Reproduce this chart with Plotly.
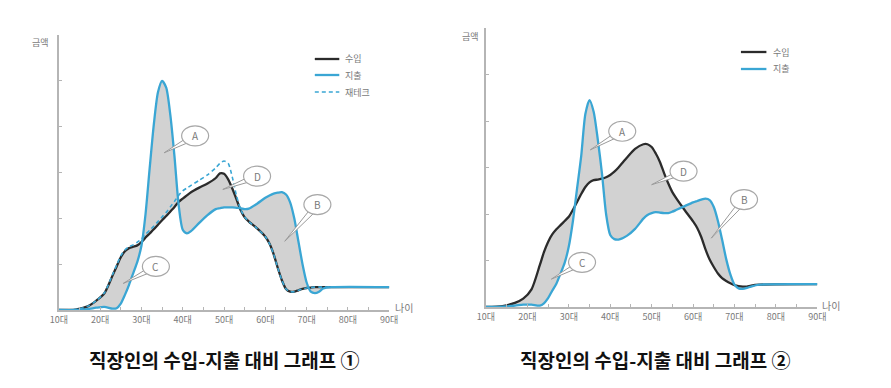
import math
import plotly.graph_objects as go

# ---------------- data ----------------
ages = [10, 14, 17, 19, 21, 23, 24, 25, 26, 27, 28, 29, 30, 31, 32, 33, 34, 35, 36, 37, 38, 39,
        40, 41, 42, 44, 46, 48, 49, 50, 51, 52, 53, 54, 55, 56, 58, 60, 61, 62, 63, 64, 65, 66,
        67, 68, 69, 70, 71, 72, 73, 74, 76, 90]

income_1 = [0, 0.01, 0.08, 0.2, 0.36, 0.75, 0.95, 1.15, 1.28, 1.35, 1.38, 1.41, 1.48, 1.58, 1.67,
            1.76, 1.86, 1.96, 2.05, 2.15, 2.25, 2.36, 2.43, 2.5, 2.57, 2.67, 2.76, 2.88, 2.98, 2.97,
            2.85, 2.65, 2.42, 2.18, 2.02, 1.93, 1.78, 1.6, 1.45, 1.22, 0.92, 0.65, 0.46, 0.4, 0.4,
            0.43, 0.46, 0.48, 0.49, 0.5, 0.5, 0.5, 0.5, 0.5]
spend_1 = [0, 0, 0.02, 0.05, 0.07, 0.03, 0.04, 0.14, 0.33, 0.55, 0.8, 1.05, 1.4, 2.1, 3.1, 4.05,
           4.75, 5.0, 4.85, 4.25, 3.35, 2.3, 1.75, 1.67, 1.72, 1.9, 2.07, 2.2, 2.22, 2.24, 2.24,
           2.24, 2.23, 2.22, 2.2, 2.21, 2.32, 2.45, 2.5, 2.54, 2.56, 2.57, 2.52, 2.35, 2.0, 1.5,
           1.0, 0.6, 0.4, 0.37, 0.4, 0.47, 0.5, 0.5]
invest_1 = [0, 0.01, 0.08, 0.2, 0.37, 0.77, 0.98, 1.18, 1.31, 1.38, 1.42, 1.48, 1.55, 1.65, 1.74,
            1.83, 1.93, 2.03, 2.13, 2.25, 2.37, 2.5, 2.6, 2.66, 2.72, 2.83, 2.95, 3.1, 3.2, 3.25,
            3.2, 2.9, 2.5, 2.2, 2.03, 1.93, 1.78, 1.6, 1.45, 1.22, 0.92, 0.65, 0.46, 0.4, 0.4,
            0.43, 0.46, 0.48, 0.49, 0.5, 0.5, 0.5, 0.5, 0.5]

income_2 = [0, 0.02, 0.09, 0.18, 0.38, 0.9, 1.18, 1.4, 1.56, 1.67, 1.76, 1.85, 1.94, 2.09, 2.26,
            2.43, 2.58, 2.68, 2.73, 2.74, 2.76, 2.79, 2.84, 2.91, 3.0, 3.21, 3.4, 3.5, 3.5, 3.44,
            3.3, 3.12, 2.88, 2.66, 2.47, 2.33, 2.08, 1.84, 1.7, 1.5, 1.24, 1.02, 0.86, 0.72, 0.62,
            0.56, 0.51, 0.47, 0.45, 0.44, 0.44, 0.46, 0.48, 0.49]
spend_2 = [0, 0.01, 0.03, 0.05, 0.05, 0.03, 0.08, 0.19, 0.35, 0.5, 0.72, 0.95, 1.3, 1.85, 2.55,
           3.25, 4.15, 4.45, 4.2, 3.6, 2.88, 2.0, 1.55, 1.46, 1.45, 1.53, 1.68, 1.9, 1.98, 2.02,
           2.04, 2.03, 2.02, 2.02, 2.05, 2.09, 2.17, 2.25, 2.28, 2.31, 2.33, 2.3, 2.15, 1.85, 1.45,
           1.03, 0.7, 0.48, 0.4, 0.39, 0.41, 0.44, 0.48, 0.49]

tick_vals = [10, 20, 30, 40, 50, 60, 70, 80, 90]
tick_text = ["10대", "20대", "30대", "40대", "50대", "60대", "70대", "80대", "90대"]

series_names_1 = ["수입", "지출", "재테크"]
series_names_2 = ["수입", "지출"]

callout_labels = ["A", "D", "B", "C"]
callouts_1 = [(43.0, 3.8, 35.5, 3.43), (58.0, 2.92, 49.7, 2.63), (72.6, 2.3, 64.7, 1.5), (33.5, 0.95, 25.6, 0.58)]
callouts_2 = [(42.9, 3.78, 35.2, 3.38), (57.7, 2.92, 50.0, 2.63), (72.3, 2.31, 64.4, 1.48), (33.2, 0.96, 25.8, 0.6)]

titles = ["직장인의 수입-지출 대비 그래프 ①", "직장인의 수입-지출 대비 그래프 ②"]

# ---------------- style ----------------
FONT = "Noto Sans CJK KR"
BLACK = "#2b2b2b"
BLUE = "#3aa6d4"
FILL = "#d2d2d2"
AXIS = "#b5b5b5"
TXT = "#7a7a7a"
SMOOTH = 0.7
X_RANGE = [10, 90]
Y_RANGE = [0, 6]

# page body has an 8px margin: figure is sized so the page spans 891x388
OFF = 8
W, H = 891 - OFF, 388 - OFF


def px(x):
    return (x - OFF) / W


def py(y):
    return 1 - (y - OFF) / H


# plot-area pixel boxes (left, right, bottom, top) in page pixels
BOX_1 = (50.7, 388, 310, 35)
BOX_2 = (486.7, 825, 307, 28)

fig = go.Figure()


def add_panel(income, spend, invest, xa, ya):
    fig.add_trace(go.Scatter(x=ages, y=spend, mode="lines", line=dict(width=0, shape="spline", smoothing=SMOOTH),
                             showlegend=False, hoverinfo="skip", xaxis=xa, yaxis=ya))
    fig.add_trace(go.Scatter(x=ages, y=income, mode="lines", line=dict(width=0, shape="spline", smoothing=SMOOTH),
                             fill="tonexty", fillcolor=FILL, showlegend=False, hoverinfo="skip",
                             xaxis=xa, yaxis=ya))
    fig.add_trace(go.Scatter(x=ages, y=income, mode="lines", name="수입", showlegend=False,
                             line=dict(color=BLACK, width=2.3, shape="spline", smoothing=SMOOTH),
                             xaxis=xa, yaxis=ya))
    fig.add_trace(go.Scatter(x=ages, y=spend, mode="lines", name="지출", showlegend=False,
                             line=dict(color=BLUE, width=2.3, shape="spline", smoothing=SMOOTH),
                             xaxis=xa, yaxis=ya))
    if invest is not None:
        fig.add_trace(go.Scatter(x=ages, y=invest, mode="lines", name="재테크", showlegend=False,
                                 line=dict(color=BLUE, width=1.6, dash="4px,3px", shape="spline", smoothing=SMOOTH),
                                 xaxis=xa, yaxis=ya))


add_panel(income_1, spend_1, invest_1, "x", "y")
add_panel(income_2, spend_2, None, "x2", "y2")

shapes = []
annotations = []
for callouts, xr, yr, box in ((callouts_1, "x", "y", BOX_1), (callouts_2, "x2", "y2", BOX_2)):
    sx = (box[1] - box[0]) / (X_RANGE[1] - X_RANGE[0])
    sy = (box[2] - box[3]) / (Y_RANGE[1] - Y_RANGE[0])
    for lab, (bx, by, tx, ty) in zip(callout_labels, callouts):
        dx, dy = (bx - tx) * sx, (by - ty) * sy
        L = math.hypot(dx, dy)
        nx, ny = -dy / L * 3.2, dx / L * 3.2
        path = "M 0,0 L {:.1f},{:.1f} L {:.1f},{:.1f} Z".format(dx + nx, dy + ny, dx - nx, dy - ny)
        shapes.append(dict(type="path", xref=xr, yref=yr, xsizemode="pixel", ysizemode="pixel",
                           xanchor=tx, yanchor=ty, path=path, fillcolor="white",
                           line=dict(color="#9a9a9a", width=1), layer="above"))
        shapes.append(dict(type="circle", xref=xr, yref=yr, xsizemode="pixel", ysizemode="pixel",
                           xanchor=bx, yanchor=by, x0=-13.5, x1=13.5, y0=-10, y1=10,
                           fillcolor="white", line=dict(color="#a8a8a8", width=1.2), layer="above"))
        annotations.append(dict(x=bx, y=by, xref=xr, yref=yr, text=lab, showarrow=False,
                                xanchor="center", yanchor="middle",
                                font=dict(family=FONT, size=10, color=TXT)))

# manual legends
legend_styles = [dict(color=BLACK, width=2.3), dict(color=BLUE, width=2.3), dict(color=BLUE, width=1.6, dash="4px,3px")]
for names, lx0, lx1, tx, ys in ((series_names_1, 312, 337, 341, [59, 75, 92]),
                                (series_names_2, 747, 773, 778, [52, 69])):
    for name, st, yy in zip(names, legend_styles, ys):
        shapes.append(dict(type="line", xref="paper", yref="paper", x0=px(lx0), x1=px(lx1),
                           y0=py(yy), y1=py(yy), line=st))
        annotations.append(dict(x=px(tx), y=py(yy), xref="paper", yref="paper", text=name, showarrow=False,
                                xanchor="left", yanchor="middle", font=dict(family=FONT, size=9, color=TXT)))

# axis labels
for (gx, gy, nx_, ny_) in ((31.7, 43, 403, 307), (471, 36, 839, 305)):
    annotations.append(dict(x=px(gx), y=py(gy), xref="paper", yref="paper", text="금액",
                            xanchor="center", yanchor="middle",
                            showarrow=False, font=dict(family=FONT, size=9, color=TXT)))
    annotations.append(dict(x=px(nx_), y=py(ny_), xref="paper", yref="paper", text="나이",
                            xanchor="center", yanchor="middle",
                            showarrow=False, font=dict(family=FONT, size=10, color=TXT)))

for t, cx in zip(titles, (220, 660)):
    annotations.append(dict(x=px(cx), y=py(359), xref="paper", yref="paper", text="<b>" + t + "</b>",
                            xanchor="center", yanchor="middle",
                            showarrow=False, font=dict(family=FONT, size=19, color="#111111")))

xaxis_common = dict(range=X_RANGE, showgrid=False, zeroline=False, showline=True, linecolor=AXIS, linewidth=1.5,
                    tickvals=tick_vals, ticktext=tick_text, ticks="inside", ticklen=3, tickcolor=AXIS,
                    minor=dict(dtick=5, ticks="inside", ticklen=3, tickcolor=AXIS),
                    tickfont=dict(family=FONT, size=9, color=TXT), fixedrange=True)
yaxis_common = dict(range=Y_RANGE, showgrid=False, zeroline=False, showline=True, linecolor=AXIS, linewidth=1.5,
                    tickvals=[1, 2, 3, 4, 5, 6], showticklabels=False, ticks="inside", ticklen=3,
                    tickcolor=AXIS, fixedrange=True)

fig.update_layout(
    width=W, height=H,
    margin=dict(l=0, r=0, t=0, b=0),
    paper_bgcolor="white", plot_bgcolor="white",
    font=dict(family=FONT),
    showlegend=False,
    xaxis=dict(domain=[px(BOX_1[0]), px(BOX_1[1])], anchor="y", **xaxis_common),
    yaxis=dict(domain=[py(BOX_1[2]), py(BOX_1[3])], anchor="x", **yaxis_common),
    xaxis2=dict(domain=[px(BOX_2[0]), px(BOX_2[1])], anchor="y2", **xaxis_common),
    yaxis2=dict(domain=[py(BOX_2[2]), py(BOX_2[3])], anchor="x2", **yaxis_common),
    shapes=shapes,
    annotations=annotations,
)

fig.write_html("out.html")
